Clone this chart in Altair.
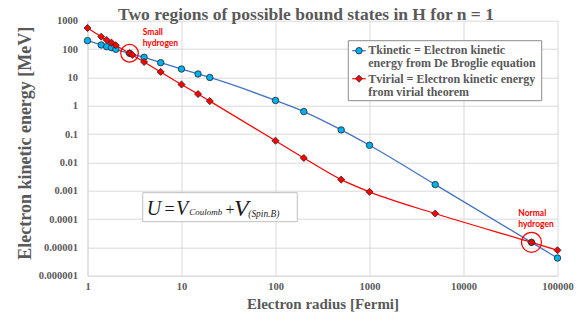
import json
import altair as alt
import pandas as pd

# ---------------- data ----------------
r_kinetic = [1, 1.4, 1.6, 1.8, 2, 2.8, 4, 6, 10, 15, 20, 100, 200, 500, 1000, 5000, 52918, 100000]
t_kinetic = [198, 139, 121, 112, 98, 70.5, 51, 33, 19.7, 13.2, 9.9, 1.53, 0.62, 0.14, 0.040,
             0.00164, 1.5e-5, 4.2e-6]

r_virial = [1, 1.4, 1.6, 1.8, 2, 2.8, 3, 4, 6, 10, 15, 20, 100, 200, 500, 1000, 5000, 52918, 100000]
t_virial = [553, 273, 209, 168, 136, 71, 62, 35, 15.6, 5.6, 2.57, 1.45, 0.058, 0.0143, 0.00246,
            0.00091, 0.000156, 1.5e-5, 7.9e-6]

small_h = {"r": [2.8], "T": [71]}
normal_h = {"r": [52918], "T": [1.5e-5]}

x_ticks = [1, 10, 100, 1000, 10000, 100000]
x_tick_labels = ["1", "10", "100", "1000", "10000", "100000"]
y_ticks = [1000, 100, 10, 1, 0.1, 0.01, 0.001, 0.0001, 0.00001, 0.000001]
y_tick_labels = ["1000", "100", "10", "1", "0.1", "0.01", "0.001", "0.0001", "0.00001", "0.000001"]

title_text = "Two regions of possible bound states in H for n = 1"
x_title = "Electron radius [Fermi]"
y_title = "Electron kinetic energy  [MeV]"
legend_kin = ["Tkinetic = Electron kinetic", "energy from De Broglie equation"]
legend_vir = ["Tvirial = Electron kinetic energy", "from virial theorem"]

# ---------------- styling ----------------
SERIF = "Liberation Serif"
GRAY = "#595959"
GRID = "#D9D9D9"
BLUE_LINE = "#4472C4"
BLUE_FILL = "#00B0F0"
RED = "#FF0000"
OUTLINE = "#262626"

kin = pd.DataFrame({"r": r_kinetic, "T": t_kinetic})
vir = pd.DataFrame({"r": r_virial, "T": t_virial})
one = alt.Data(values=[{}])

x_label_expr = f"{json.dumps(x_tick_labels)}[round(log(datum.value)/LN10)]"
y_label_expr = f"{json.dumps(y_tick_labels)}[round(3 - log(datum.value)/LN10)]"

X = alt.X(
    "r:Q",
    scale=alt.Scale(type="log", domain=[1, 100000], nice=False),
    axis=alt.Axis(
        values=x_ticks, labelExpr=x_label_expr, ticks=False, grid=True,
        gridColor=GRID, domainColor=GRID, labelFlush=False, labelOverlap=False,
        labelFont=SERIF, labelFontWeight="bold", labelFontSize=10.5, labelColor=GRAY,
        labelPadding=6,
        title=x_title, titleFont=SERIF, titleFontWeight="bold", titleFontSize=15,
        titleColor=GRAY, titleY=28, titleBaseline="middle",
    ),
)
Y = alt.Y(
    "T:Q",
    scale=alt.Scale(type="log", domain=[0.000001, 1000], nice=False),
    axis=alt.Axis(
        values=y_ticks, labelExpr=y_label_expr, ticks=False, grid=True,
        gridColor=GRID, domainColor=GRID, labelFlush=False, labelOverlap=False,
        labelFont=SERIF, labelFontWeight="bold", labelFontSize=10.5, labelColor=GRAY,
        labelPadding=10,
        title=y_title, titleFont=SERIF, titleFontWeight="bold", titleFontSize=18,
        titleColor=GRAY, titleX=-62.5, titleY=122, titleBaseline="middle",
        titleAlign="center", titleAngle=270,
    ),
)

base_kin = alt.Chart(kin).encode(x=X, y=Y)
base_vir = alt.Chart(vir).encode(x=X, y=Y)

kin_line = base_kin.mark_line(color=BLUE_LINE, strokeWidth=1.3, interpolate="monotone")
kin_pts = base_kin.mark_point(shape="circle", filled=True, fill=BLUE_FILL, stroke=OUTLINE,
                              strokeWidth=0.8, size=42, opacity=1)
vir_line = base_vir.mark_line(color=RED, strokeWidth=1.2, interpolate="monotone")
vir_pts = base_vir.mark_point(shape="diamond", filled=True, fill=RED, stroke=OUTLINE,
                              strokeWidth=0.8, size=50, opacity=1)

circ1 = alt.Chart(pd.DataFrame(small_h)).mark_point(
    shape="circle", filled=False, stroke=RED, strokeWidth=1.2, size=310, opacity=1
).encode(x=X, y=Y)
circ2 = alt.Chart(pd.DataFrame(normal_h)).mark_point(
    shape="circle", filled=False, stroke=RED, strokeWidth=1.2, size=400, opacity=1
).encode(x=X, y=Y)


def txt(s, x, y, size, color=GRAY, font=SERIF, weight="bold", style="normal",
        align="left", baseline="middle"):
    return alt.Chart(one).mark_text(
        text=s, align=align, baseline=baseline, font=font, fontSize=size,
        fontWeight=weight, fontStyle=style, color=color,
    ).encode(x=alt.value(x), y=alt.value(y))


def box(x1, x2, y1, y2, stroke):
    return alt.Chart(one).mark_rect(fill="white", stroke=stroke, strokeWidth=1).encode(
        x=alt.value(x1), x2=alt.value(x2), y=alt.value(y1), y2=alt.value(y2))


def hline(x1, x2, y, color, w):
    return alt.Chart(one).mark_rule(color=color, strokeWidth=w).encode(
        x=alt.value(x1), x2=alt.value(x2), y=alt.value(y))


def sym(x, y, shape, fill, size):
    return alt.Chart(one).mark_point(shape=shape, filled=True, fill=fill, stroke=OUTLINE,
                                     strokeWidth=0.8, size=size, opacity=1).encode(
        x=alt.value(x), y=alt.value(y))


# title
title = txt(title_text, 218.5, -0.3, 17.5, align="center", baseline="alphabetic")

# legend (drawn)
legend = [
    box(260.8, 454.2, 20, 80, "#8C8C8C"),
    hline(264.8, 278.2, 30, BLUE_LINE, 1.3),
    sym(271.5, 30, "circle", BLUE_FILL, 42),
    hline(264.8, 278.2, 58, RED, 1.2),
    sym(271.5, 58, "diamond", RED, 50),
    txt(legend_kin[0], 280.8, 29.5, 12),
    txt(legend_kin[1], 280.8, 42, 12),
    txt(legend_vir[0], 280.8, 58.5, 12),
    txt(legend_vir[1], 280.8, 71, 12),
]

# equation box
EQ = "#1A1A1A"
eq_base = 194.3
equation = [
    box(55.2, 209.8, 172, 201, "#BFBFBF"),
    txt("U", 59.3, eq_base, 20, color=EQ, weight="normal", style="italic", baseline="alphabetic"),
    txt("=", 77, eq_base, 18, color=EQ, weight="normal", baseline="alphabetic"),
    txt("V", 88.5, eq_base, 20, color=EQ, weight="normal", style="italic", baseline="alphabetic"),
    txt("Coulomb", 101.8, eq_base, 9, color=EQ, weight="normal", style="italic", baseline="alphabetic"),
    txt("+", 138, eq_base, 16, color=EQ, weight="normal", baseline="alphabetic"),
    txt("V", 146.5, eq_base + 0.8, 24, color=EQ, weight="normal", style="italic", baseline="alphabetic"),
    txt("(Spin.B)", 160.8, eq_base + 1.7, 9.4, color=EQ, weight="normal", style="italic", baseline="alphabetic"),
]

# annotations
ANN_FONT = "Lato"
annotations = [
    txt("Small", 55.2, 11.3, 8.5, color=RED, font=ANN_FONT),
    txt("hydrogen", 55.2, 22.3, 8.5, color=RED, font=ANN_FONT),
    txt("Normal", 430.8, 192.6, 8.5, color=RED, font=ANN_FONT),
    txt("hydrogen", 430.8, 203.3, 8.5, color=RED, font=ANN_FONT),
]

chart = alt.layer(
    kin_line, kin_pts, vir_line, vir_pts, circ1, circ2,
    *equation, *legend, *annotations, title,
).properties(
    width=470, height=255,
    autosize=alt.AutoSizeParams(type="none"),
    padding={"left": 79.5, "top": 12.7, "right": 21, "bottom": 38},
    background="white",
).configure_view(stroke=None)

chart.save("out.html", embed_options={"renderer": "svg", "actions": False})
